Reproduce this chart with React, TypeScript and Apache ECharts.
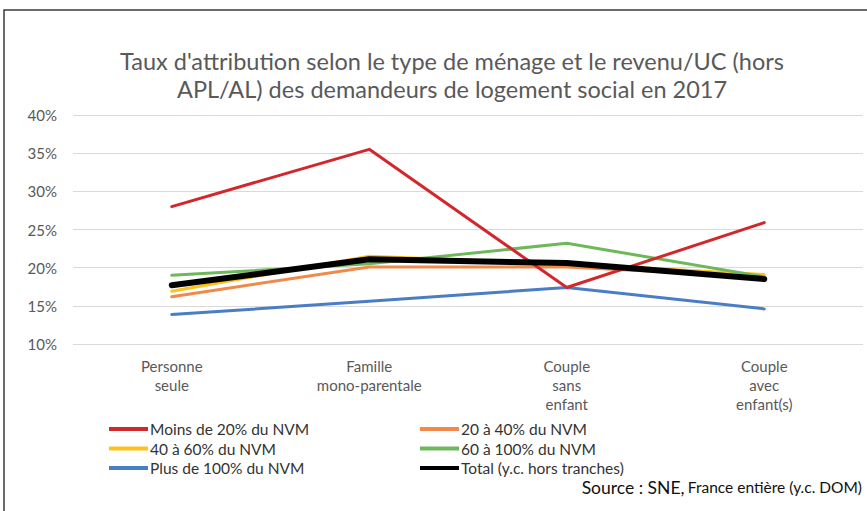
import React, { useEffect, useRef } from "react";
import * as echarts from "echarts";

const categories = ["Personne\nseule", "Famille\nmono-parentale", "Couple\nsans\nenfant", "Couple\navec\nenfant(s)"];
const yTicks = { min: 10, max: 40, interval: 5 };

const moins20 = [28.0, 35.5, 17.4, 25.9];
const de20a40 = [16.2, 20.1, 20.1, 18.8];
const de40a60 = [16.9, 21.5, 20.5, 19.1];
const de60a100 = [19.0, 20.5, 23.2, 18.8];
const plus100 = [13.85, 15.6, 17.4, 14.6];
const total = [17.7, 21.1, 20.6, 18.5];

const seriesNames = [
  "Moins de 20% du NVM",
  "20 à 40% du NVM",
  "40 à 60% du NVM",
  "60 à 100% du NVM",
  "Plus de 100% du NVM",
  "Total (y.c. hors tranches)",
];

const FONT = "Lato, 'Open Sans', sans-serif";

export default function App() {
  const ref = useRef<HTMLDivElement>(null);
  useEffect(() => {
    if (!ref.current) return;
    const chart = echarts.init(ref.current, undefined, { renderer: "svg" });
    const mk = (name: string, data: number[], color: string, width: number, z = 2) => ({
      name,
      type: "line",
      data,
      symbol: "none",
      z,
      lineStyle: { color, width, cap: "round", join: "round" },
      itemStyle: { color },
    });
    const legendText = {
      fontFamily: FONT,
      fontSize: 15.5,
      color: "#333333",
      lineHeight: 14,
      padding: [0, 0, 0, -3],
    };
    chart.setOption({
      animation: false,
      backgroundColor: "#ffffff",
      title: {
        text: "Taux d'attribution selon le type de ménage et le revenu/UC (hors\nAPL/AL) des demandeurs de logement social en 2017",
        left: 447,
        top: 42,
        textAlign: "center",
        textStyle: {
          fontFamily: FONT,
          fontSize: 23.5,
          fontWeight: "normal",
          color: "#595959",
          lineHeight: 28,
        },
      },
      grid: { left: 73, right: 4, top: 115, bottom: 167, containLabel: false },
      xAxis: {
        type: "category",
        data: categories,
        boundaryGap: true,
        axisLine: { show: false },
        axisTick: { show: false },
        axisLabel: {
          margin: 12,
          fontFamily: FONT,
          fontSize: 15,
          color: "#595959",
          lineHeight: 19,
          interval: 0,
        },
      },
      yAxis: {
        type: "value",
        min: yTicks.min,
        max: yTicks.max,
        interval: yTicks.interval,
        axisLine: { show: false },
        axisTick: { show: false },
        splitLine: { lineStyle: { color: "#d9d9d9", width: 1 } },
        axisLabel: {
          formatter: "{value}%",
          margin: 16,
          fontFamily: FONT,
          fontSize: 15,
          color: "#595959",
        },
      },
      legend: [
        {
          data: [seriesNames[0], seriesNames[2], seriesNames[4]],
          orient: "vertical",
          left: 109,
          top: 421,
          padding: 0,
          itemWidth: 39,
          itemHeight: 4,
          itemGap: 3.5,
          icon: "rect",
          textStyle: legendText,
        },
        {
          data: [seriesNames[1], seriesNames[3], seriesNames[5]],
          orient: "vertical",
          left: 420,
          top: 421,
          padding: 0,
          itemWidth: 39,
          itemHeight: 4,
          itemGap: 3.5,
          icon: "rect",
          textStyle: legendText,
        },
      ],
      graphic: [
        {
          type: "polyline",
          shape: { points: [[4, 520], [4, 10], [880, 10]] },
          style: { stroke: "#3a3a3a", lineWidth: 1.5, fill: "none" },
          silent: true,
        },
        {
          type: "text",
          right: 5,
          top: 478,
          style: {
            text: "{b|Source : SNE,} {n|France entière (y.c. DOM)}",
            rich: {
              b: { fontFamily: FONT, fontSize: 17.5, fill: "#111111" },
              n: { fontFamily: FONT, fontSize: 15.5, fill: "#111111" },
            },
          },
        },
      ],
      series: [
        mk(seriesNames[4], plus100, "#4a7ec4", 3),
        mk(seriesNames[1], de20a40, "#f0894a", 3),
        mk(seriesNames[2], de40a60, "#ffc21a", 3),
        mk(seriesNames[3], de60a100, "#6eb85c", 3),
        mk(seriesNames[0], moins20, "#d3282b", 3),
        mk(seriesNames[5], total, "#000000", 6, 5),
      ],
    });
    return () => chart.dispose();
  }, []);
  return (
    <div
      ref={ref}
      style={{ position: "absolute", left: 0, top: 0, width: 867, height: 511 }}
    />
  );
}
